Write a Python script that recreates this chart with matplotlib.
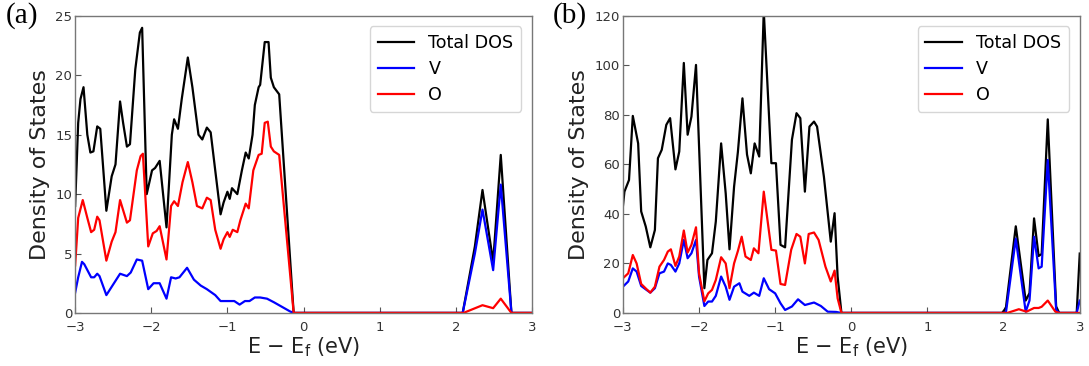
import matplotlib
matplotlib.use("Agg")
import matplotlib.pyplot as plt

# ---- panel (a) ----
e_tot_a = [-3.00, -2.96, -2.93, -2.89, -2.84, -2.80, -2.76, -2.71, -2.67, -2.59,
           -2.52, -2.47, -2.41, -2.37, -2.32, -2.28, -2.21, -2.15, -2.12, -2.06,
           -1.99, -1.95, -1.89, -1.80, -1.73, -1.70, -1.65, -1.60, -1.52, -1.46,
           -1.38, -1.33, -1.27, -1.22, -1.16, -1.09, -1.05, -1.00, -0.97, -0.94,
           -0.87, -0.81, -0.76, -0.72, -0.67, -0.64, -0.59, -0.57, -0.51, -0.46,
           -0.43, -0.39, -0.32, -0.13, 2.09, 2.25, 2.35, 2.49, 2.59, 2.73, 3.00]
tot_a = [9.0, 16.0, 18.0, 19.0, 15.0, 13.5, 13.6, 15.7, 15.5, 8.6,
         11.5, 12.5, 17.8, 16.0, 14.0, 14.2, 20.5, 23.6, 24.0, 10.0,
         12.0, 12.2, 12.8, 7.2, 15.0, 16.3, 15.5, 18.0, 21.5, 19.0,
         15.0, 14.6, 15.6, 15.2, 12.0, 8.3, 9.3, 10.2, 9.6, 10.5,
         10.0, 12.0, 13.5, 13.0, 15.0, 17.5, 19.0, 19.2, 22.8, 22.8,
         19.8, 19.0, 18.4, 0, 0, 5.6, 10.35, 4.3, 13.3, 0, 0]

e_v_a = [-3.00, -2.96, -2.91, -2.88, -2.79, -2.75, -2.71, -2.68, -2.59, -2.50,
         -2.41, -2.32, -2.27, -2.19, -2.12, -2.04, -1.97, -1.89, -1.80, -1.74,
         -1.68, -1.63, -1.53, -1.44, -1.35, -1.27, -1.16, -1.09, -1.00, -0.91,
         -0.84, -0.77, -0.71, -0.64, -0.57, -0.48, -0.39, -0.28, -0.17, -0.11,
         2.09, 2.25, 2.35, 2.49, 2.59, 2.73, 3.00]
v_a = [1.7, 3.0, 4.3, 4.1, 3.0, 3.0, 3.3, 3.1, 1.5, 2.4,
       3.3, 3.1, 3.4, 4.5, 4.4, 2.0, 2.5, 2.5, 1.2, 3.0,
       2.9, 3.0, 3.8, 2.8, 2.3, 2.0, 1.5, 1.0, 1.0, 1.0,
       0.7, 1.0, 1.0, 1.3, 1.3, 1.2, 0.9, 0.5, 0.1, 0,
       0, 5.0, 8.7, 3.6, 10.8, 0, 0]

e_o_a = [-3.00, -2.96, -2.90, -2.84, -2.79, -2.75, -2.71, -2.68, -2.59, -2.52,
         -2.47, -2.41, -2.32, -2.28, -2.19, -2.14, -2.11, -2.04, -1.98, -1.93,
         -1.89, -1.80, -1.74, -1.70, -1.65, -1.59, -1.52, -1.46, -1.40, -1.33,
         -1.27, -1.22, -1.16, -1.09, -1.05, -1.00, -0.97, -0.93, -0.87, -0.83,
         -0.76, -0.72, -0.66, -0.59, -0.55, -0.51, -0.47, -0.43, -0.39, -0.32,
         -0.13, 2.10, 2.35, 2.49, 2.59, 2.73, 3.00]
o_a = [4.0, 8.0, 9.5, 8.0, 6.8, 7.0, 8.1, 7.8, 4.4, 6.0,
       6.8, 9.5, 7.6, 7.8, 12.0, 13.2, 13.4, 5.6, 6.7, 6.9,
       7.3, 4.5, 9.0, 9.4, 9.0, 11.0, 12.7, 11.0, 9.0, 8.8,
       9.7, 9.5, 7.0, 5.4, 6.2, 6.8, 6.4, 7.0, 6.8, 7.8,
       9.2, 8.8, 12.0, 13.3, 13.4, 16.0, 16.1, 14.0, 13.6, 13.3,
       0, 0, 0.65, 0.4, 1.2, 0, 0]

# ---- panel (b) ----
e_tot_b = [-3.00, -2.98, -2.92, -2.87, -2.80, -2.76, -2.70, -2.64, -2.58, -2.54,
           -2.49, -2.43, -2.38, -2.31, -2.26, -2.20, -2.15, -2.10, -2.04, -1.93,
           -1.89, -1.83, -1.78, -1.71, -1.65, -1.60, -1.54, -1.49, -1.43, -1.37,
           -1.32, -1.27, -1.21, -1.15, -1.05, -0.99, -0.93, -0.87, -0.78, -0.72,
           -0.67, -0.61, -0.55, -0.49, -0.45, -0.36, -0.27, -0.22, -0.18, -0.13,
           1.98, 2.03, 2.16, 2.29, 2.34, 2.40, 2.46, 2.50, 2.58, 2.69,
           2.73, 2.96, 3.00]
tot_b = [43, 49, 53.7, 79.6, 68.5, 41, 34.9, 26.5, 33.5, 62.5,
         65.9, 76, 78.7, 58, 65.2, 101, 72, 79.3, 100.2, 10,
         21.4, 24.1, 36.9, 68.5, 48.3, 25.7, 51, 65, 86.7, 64,
         56.4, 68.5, 63.2, 122, 60.5, 60.5, 27.5, 26.5, 70, 80.7,
         78.7, 49, 75.3, 77.3, 75.3, 55, 28.8, 40.3, 14.7, 0,
         0, 2, 35, 5, 8, 38.2, 23, 23.8, 78.2, 2.6,
         0, 0, 24]

e_v_b = [-3.00, -2.93, -2.87, -2.82, -2.76, -2.69, -2.64, -2.58, -2.52, -2.46,
         -2.41, -2.37, -2.31, -2.26, -2.20, -2.15, -2.10, -2.04, -2.00, -1.93,
         -1.88, -1.83, -1.78, -1.71, -1.65, -1.60, -1.54, -1.47, -1.43, -1.34,
         -1.28, -1.21, -1.15, -1.08, -1.00, -0.93, -0.87, -0.78, -0.70, -0.61,
         -0.49, -0.40, -0.31, -0.20, -0.13, 2.03, 2.16, 2.29, 2.34, 2.40,
         2.46, 2.50, 2.58, 2.69, 2.73, 2.96, 3.00]
v_b = [10.6, 12.7, 18, 16.7, 10.9, 9.3, 8.2, 10, 16, 16.7,
       20, 19.4, 16.7, 20, 29.5, 22.1, 24.1, 29.5, 14.7, 2.8,
       4.6, 4.6, 6.9, 14.7, 10.6, 5.3, 10.6, 12, 8.6, 6.9,
       8.2, 6.9, 14, 9.6, 7.9, 3.9, 1.2, 2.6, 5.5, 3.2,
       4.2, 2.8, 0.5, 0.4, 0, 0, 30, 0.5, 5, 30.8,
       18, 18.7, 61.8, 1.2, 0, 0, 5]

e_o_b = [-3.00, -2.93, -2.87, -2.82, -2.76, -2.69, -2.64, -2.58, -2.52, -2.46,
         -2.41, -2.37, -2.31, -2.26, -2.20, -2.15, -2.10, -2.04, -2.00, -1.93,
         -1.88, -1.83, -1.78, -1.71, -1.65, -1.60, -1.54, -1.49, -1.44, -1.39,
         -1.32, -1.28, -1.22, -1.15, -1.05, -0.99, -0.93, -0.87, -0.79, -0.72,
         -0.67, -0.61, -0.56, -0.49, -0.43, -0.34, -0.27, -0.22, -0.18, -0.13,
         2.05, 2.20, 2.30, 2.40, 2.46, 2.50, 2.58, 2.68, 2.73, 3.00]
o_b = [14, 16, 23.4, 20, 11.7, 9.6, 8.2, 10.6, 18.7, 21.4,
       24.8, 25.7, 19, 22.8, 33.3, 24.4, 27.5, 34.6, 16, 4.7,
       7.9, 9.3, 13.3, 22.5, 20, 10, 20, 25, 30.8, 22.8,
       21.4, 26.1, 24.1, 49, 25.5, 25.2, 11.7, 11.3, 25.5, 31.9,
       30.8, 20, 31.9, 32.5, 29.5, 18.7, 12.7, 17.1, 5.9, 0,
       0, 1.5, 0.5, 2.0, 2.0, 2.5, 5.0, 0.5, 0, 0]

panels = [
    ("(a)", e_tot_a, tot_a, e_v_a, v_a, e_o_a, o_a, 25, [0, 5, 10, 15, 20, 25]),
    ("(b)", e_tot_b, tot_b, e_v_b, v_b, e_o_b, o_b, 120, [0, 20, 40, 60, 80, 100, 120]),
]
xticks = [-3, -2, -1, 0, 1, 2, 3]

fig = plt.figure(figsize=(10.89, 3.66), dpi=100)
lefts = [0.069, 0.572]
for (tag, et, t, ev, v, eo, o, ymax, yt), left in zip(panels, lefts):
    ax = fig.add_axes([left, 0.145, 0.4195, 0.8115])
    ax.plot(et, t, color='k', lw=1.6, label='Total DOS')
    ax.plot(ev, v, color='b', lw=1.6, label='V')
    ax.plot(eo, o, color='r', lw=1.6, label='O')
    ax.set_xlim(-3, 3)
    ax.set_ylim(0, ymax)
    ax.set_xticks(xticks)
    ax.set_xticklabels(['\u22123', '\u22122', '\u22121', '0', '1', '2', '3'])
    ax.set_yticks(yt)
    ax.tick_params(direction='in', length=4, width=0.8, labelsize=9.5,
                   colors='#555555', labelcolor='#333333', pad=2)
    ax.tick_params(axis='x', pad=6)
    for s in ax.spines.values():
        s.set_color('#777777')
        s.set_linewidth(1.0)
    ax.set_ylabel('Density of States', fontsize=16, color='#222222')
    ax.set_xlabel('E \u2212 E$_\\mathrm{f}$ (eV)', fontsize=15, color='#222222', labelpad=1)
    leg = ax.legend(loc='upper right', fontsize=12.6, handlelength=2.1,
                    labelspacing=0.45, borderpad=0.45, handletextpad=0.8,
                    borderaxespad=0.6, fancybox=True)
    leg.get_frame().set_edgecolor('#cccccc')
    fig.text(left - 0.064, 0.995, tag, fontsize=21, family='Liberation Serif',
             va='top', ha='left')

fig.savefig('out.png', dpi=100)
